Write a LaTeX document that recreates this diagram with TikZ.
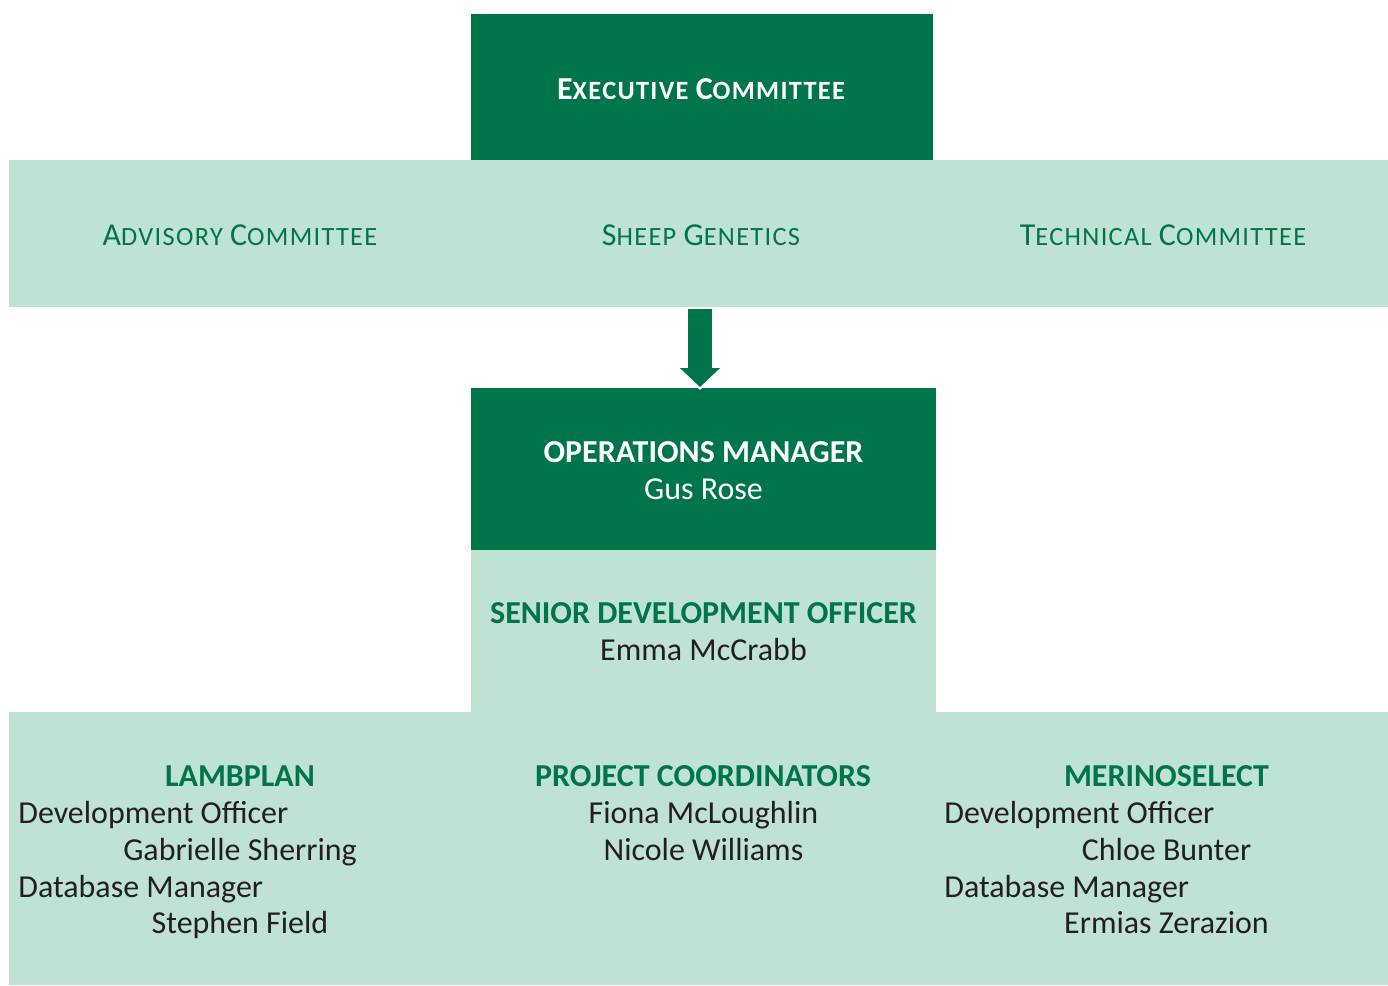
\documentclass[tikz,border=0pt]{standalone}
\usepackage{fontspec}
\setmainfont{Carlito}
\usetikzlibrary{arrows.meta,positioning}
\definecolor{sgdark}{HTML}{00754A}
\definecolor{sglight}{HTML}{BFE3D2}
\definecolor{sgtext}{HTML}{231F20}
% small caps made by hand: big first letter, smaller capitals after it
\newcommand{\sgsc}[2]{#1{\fontsize{15}{16}\selectfont\addfontfeatures{LetterSpace=5}#2}}

\begin{document}
\begin{tikzpicture}[x=0.02cm,y=-0.02cm,
  panel/.style={rectangle,inner sep=0pt,outer sep=0pt},
  darkbox/.style={panel,fill=sgdark},
  lightbox/.style={panel,fill=sglight},
  sgtxt/.style={inner sep=0pt,anchor=base,font=\fontsize{18.2}{21}\selectfont},
  sgbold/.style={sgtxt,font=\fontsize{18.2}{21}\selectfont\bfseries},
  greenhead/.style={sgbold,text=sgdark},
  whitehead/.style={sgbold,text=white},
  person/.style={sgtxt,text=sgtext},
  post/.style={person,anchor=base west}]
\useasboundingbox (0,0) rectangle (1388,985);
% boxes
\node[darkbox,minimum width=9.24cm,minimum height=2.92cm] (exec) at (702,87) {};
\node[lightbox,minimum width=27.58cm,minimum height=2.94cm] (band) at (698.5,233.5) {};
\node[darkbox,minimum width=9.3cm,minimum height=3.24cm] (ops) at (703.5,469) {};
\node[lightbox,minimum width=9.3cm,minimum height=3.24cm] (senior) at (703.5,631) {};
\node[lightbox,minimum width=27.58cm,minimum height=5.46cm] (team) at (698.5,848.5) {};
% top rows
\node[whitehead] (exectxt) at (701,99) {\sgsc{E}{XECUTIVE} \sgsc{C}{OMMITTEE}};
\node[sgtxt,text=sgdark] (advisory) at (240,245) {\sgsc{A}{DVISORY} \sgsc{C}{OMMITTEE}};
\node[sgtxt,text=sgdark] (sheep) at (701,245) {\sgsc{S}{HEEP} \sgsc{G}{ENETICS}};
\node[sgtxt,text=sgdark] (technical) at (1163,245) {\sgsc{T}{ECHNICAL} \sgsc{C}{OMMITTEE}};
% arrow
\draw[white,line width=0.58cm,-{Triangle[width=0.92cm,length=0.46cm]}]
  ([xshift=-0.07cm]band.south -| ops.north) -- ([xshift=-0.07cm,yshift=-0.04cm]ops.north);
\draw[sgdark,line width=0.48cm,-{Triangle[width=0.78cm,length=0.38cm]}]
  ([xshift=-0.07cm,yshift=-0.04cm]band.south -| ops.north) -- ([xshift=-0.07cm,yshift=0.02cm]ops.north);
% managers
\node[whitehead] (opshead) at (703.5,462) {OPERATIONS MANAGER};
\node[sgtxt,text=white] (opsname) at (703.5,499) {Gus Rose};
\node[greenhead] (seniorhead) at (703.5,623) {SENIOR DEVELOPMENT OFFICER};
\node[person] (seniorname) at (703.5,660) {Emma McCrabb};
% lambplan
\node[greenhead] (lamb) at (240,786) {LAMBPLAN};
\node[post] (lambdev) at (18,823) {Development Officer};
\node[person] (lambdevname) at (240,860) {Gabrielle Sherring};
\node[post] (lambdb) at (18,897) {Database Manager};
\node[person] (lambdbname) at (240,933) {Stephen Field};
% project coordinators
\node[greenhead] (proj) at (703,786) {PROJECT COORDINATORS};
\node[person] (projone) at (703.5,823) {Fiona McLoughlin};
\node[person] (projtwo) at (703.5,860) {Nicole Williams};
% merinoselect
\node[greenhead] (merino) at (1166.5,786) {MERINOSELECT};
\node[post] (merinodev) at (944,823) {Development Officer};
\node[person] (merinodevname) at (1166.5,860) {Chloe Bunter};
\node[post] (merinodb) at (944,897) {Database Manager};
\node[person] (merinodbname) at (1166.5,933) {Ermias Zerazion};
\end{tikzpicture}
\end{document}
